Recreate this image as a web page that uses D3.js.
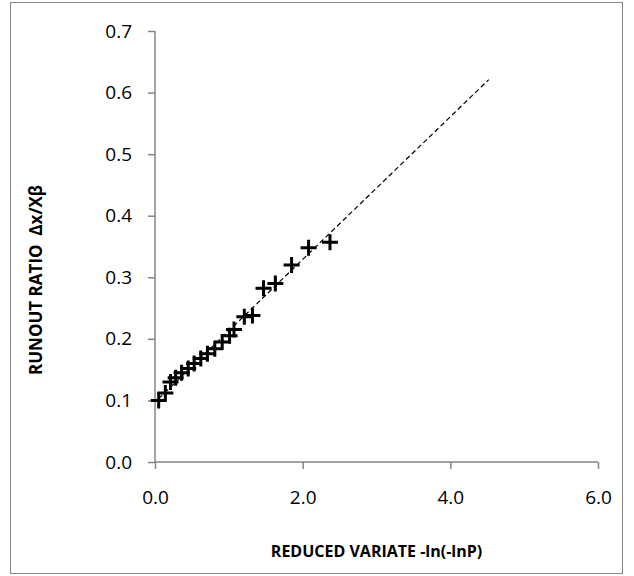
<!DOCTYPE html>
<html>
<head>
<meta charset="utf-8">
<script src="https://cdn.jsdelivr.net/npm/d3@7"></script>
<style>
  body { margin: 0; background: #fff; }
  text { font-family: "Open Sans", "Liberation Sans", sans-serif; }
</style>
</head>
<body>
<script>
// reduced variate and runout ratio
var xVals = [0.05, 0.14, 0.21, 0.28, 0.36, 0.45, 0.53, 0.62, 0.71, 0.81,
             0.91, 1.01, 1.07, 1.21, 1.32, 1.47, 1.63, 1.85, 2.08, 2.37];
var yVals = [0.100, 0.112, 0.130, 0.137, 0.145, 0.152, 0.160, 0.168, 0.176, 0.184,
             0.195, 0.205, 0.215, 0.236, 0.238, 0.282, 0.290, 0.320, 0.348, 0.357];
// dashed trend line ends
var trendX = [0.05, 4.52];
var trendY = [0.103, 0.621];
var xTicks = [0, 2, 4, 6];
var yTicks = [0, 0.1, 0.2, 0.3, 0.4, 0.5, 0.6, 0.7];

var W = 634, H = 576;
var svg = d3.select("body").append("svg")
    .attr("width", W)
    .attr("height", H);

// chart frame
svg.append("rect")
    .attr("x", 10.5).attr("y", 2.5)
    .attr("width", 612).attr("height", 571)
    .attr("fill", "#fff")
    .attr("stroke", "#868686")
    .attr("stroke-width", 1);

var x = d3.scaleLinear().domain([0, 6]).range([155, 598]);
var y = d3.scaleLinear().domain([0, 0.7]).range([462, 31]);

var axisColor = "#868686";

var xAxis = svg.append("g")
    .attr("transform", "translate(0," + y(0) + ")")
    .call(d3.axisBottom(x).tickValues(xTicks).tickFormat(d3.format(".1f")).tickSize(7).tickPadding(22));
var yAxis = svg.append("g")
    .attr("transform", "translate(" + x(0) + ",0)")
    .call(d3.axisLeft(y).tickValues(yTicks).tickFormat(d3.format(".1f")).tickSize(7).tickPadding(16));

[xAxis, yAxis].forEach(function (g) {
    g.select(".domain").attr("stroke", axisColor).attr("stroke-width", 1.5);
    g.selectAll(".tick line").attr("stroke", axisColor).attr("stroke-width", 1.5);
    g.selectAll(".tick text")
        .attr("fill", "#000")
        .style("font-size", "19px");
});
// plain domain lines, no end stubs
xAxis.select(".domain").attr("d", "M" + x(0) + ",0H" + x(6));
yAxis.select(".domain").attr("d", "M0," + y(0) + "V" + y(0.7));

// dashed trend line
svg.append("line")
    .attr("x1", x(trendX[0])).attr("y1", y(trendY[0]))
    .attr("x2", x(trendX[1])).attr("y2", y(trendY[1]))
    .attr("stroke", "#000")
    .attr("stroke-width", 1.2)
    .attr("stroke-dasharray", "5,3");

// plus markers
var pts = xVals.map(function (v, i) { return [v, yVals[i]]; });
var s = 8;
svg.append("g").selectAll("path")
    .data(pts)
    .enter().append("path")
    .attr("d", function (d) {
        var cx = x(d[0]), cy = y(d[1]);
        return "M" + (cx - s) + "," + cy + "H" + (cx + s) +
               "M" + cx + "," + (cy - s) + "V" + (cy + s);
    })
    .attr("stroke", "#000")
    .attr("stroke-width", 3)
    .attr("fill", "none");

// axis titles
svg.append("text")
    .attr("x", (x(0) + x(6)) / 2)
    .attr("y", 557)
    .attr("text-anchor", "middle")
    .style("font-size", "16px")
    .style("font-weight", "bold")
    .text("REDUCED VARIATE -ln(-lnP)");

svg.append("text")
    .attr("transform", "translate(42,280) rotate(-90)")
    .attr("text-anchor", "middle")
    .style("font-size", "17px")
    .style("font-weight", "bold")
    .style("white-space", "pre")
    .text("RUNOUT RATIO  \u0394x/X\u03b2");
</script>
</body>
</html>
